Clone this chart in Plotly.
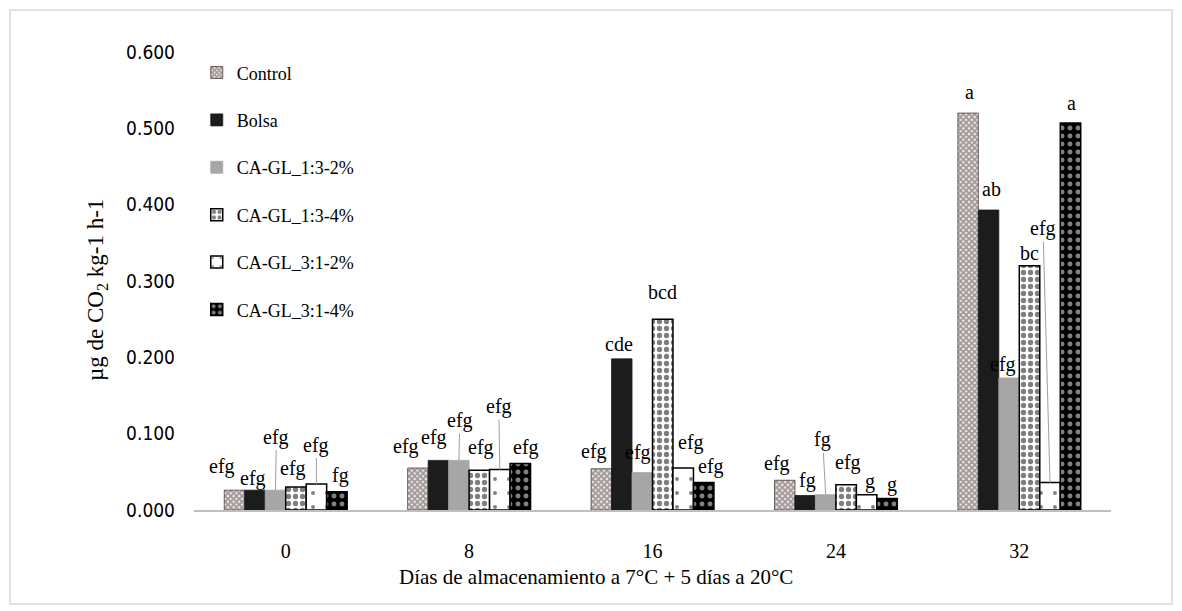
import plotly.graph_objects as go

# ---------------- data ----------------
days = ["0", "8", "16", "24", "32"]
series_names = ["Control", "Bolsa", "CA-GL_1:3-2%", "CA-GL_1:3-4%", "CA-GL_3:1-2%", "CA-GL_3:1-4%"]

control = [0.026, 0.055, 0.054, 0.039, 0.520]
bolsa = [0.026, 0.065, 0.198, 0.019, 0.393]
cagl_13_2 = [0.026, 0.065, 0.049, 0.020, 0.173]
cagl_13_4 = [0.030, 0.052, 0.250, 0.033, 0.320]
cagl_31_2 = [0.034, 0.053, 0.055, 0.020, 0.036]
cagl_31_4 = [0.024, 0.061, 0.036, 0.015, 0.507]

lab_control = ["efg", "efg", "efg", "efg", "a"]
lab_bolsa = ["efg", "efg", "cde", "fg", "ab"]
lab_13_2 = ["efg", "efg", "efg", "fg", "efg"]
lab_13_4 = ["efg", "efg", "bcd", "efg", "bc"]
lab_31_2 = ["efg", "efg", "efg", "g", "efg"]
lab_31_4 = ["fg", "efg", "efg", "g", "a"]

y_ticks = [0.0, 0.1, 0.2, 0.3, 0.4, 0.5, 0.6]
x_title = "Días de almacenamiento a 7°C + 5 días a 20°C"
y_title = "µg de CO<sub>2</sub> kg-1 h-1"

values = [control, bolsa, cagl_13_2, cagl_13_4, cagl_31_2, cagl_31_4]
labels = [lab_control, lab_bolsa, lab_13_2, lab_13_4, lab_31_2, lab_31_4]

# ---------------- styles ----------------
SERIF = "Liberation Serif, Times New Roman, serif"
styles = [
    dict(color="white", line=dict(color="#4d4040", width=0.8),
         pattern=dict(shape="x", fgcolor="#4d4040", bgcolor="#f2eded", size=4, solidity=0.7)),
    dict(color="#1c1c1c", line=dict(color="#1c1c1c", width=0.8)),
    dict(color="#a6a6a6", line=dict(color="#a6a6a6", width=0.8)),
    dict(color="white", line=dict(color="black", width=1.5),
         pattern=dict(shape=".", fgcolor="black", bgcolor="white", size=7, solidity=0.45)),
    dict(color="white", line=dict(color="black", width=1.5),
         pattern=dict(shape=".", fgcolor="black", bgcolor="white", size=14, solidity=0.06)),
    dict(color="black", line=dict(color="black", width=1.5),
         pattern=dict(shape=".", fgcolor="white", bgcolor="black", size=8, solidity=0.3)),
]

# label placement (pixel offsets from the bar top): (dx, dy, leader)
label_layout = [
    [(-13, 24, False), (-12, 22, False), (-7, 17, False), (-8, 17, False), (1, 21, False)],
    [(-2, 12, False), (-4, 23, False), (-3, 15, False), (2, 15, False), (3, 21, False)],
    [(1, 53, True), (1, 40, True), (-4, 20, False), (-3, 55, True), (-6, 13, False)],
    [(-3, 19, False), (2, 23, False), (0, 27, False), (2, 22, False), (0, 13, False)],
    [(0, 39, True), (-1, 63, True), (8, 26, False), (3, 13, False), (-7, 254, True)],
    [(4, 16, False), (6, 16, False), (7, 16, False), (5, 14, False), (1, 20, False)],
]

fig = go.Figure()
for i, (name, vals) in enumerate(zip(series_names, values)):
    fig.add_trace(go.Bar(
        x=days, y=vals, name=name, legendgroup=name,
        marker=styles[i],
    ))

# annotations
BARGAP = 0.33
n = len(series_names)
bw = (1 - BARGAP) / n
annotations = []
for i in range(n):
    for g in range(len(days)):
        xc = g - (1 - BARGAP) / 2 + bw * (i + 0.5)
        dx, dy, leader = label_layout[i][g]
        if leader:
            annotations.append(dict(
                x=xc, y=values[i][g], xref="x", yref="y", text=labels[i][g],
                showarrow=True, arrowhead=0, arrowwidth=1, arrowcolor="#a0a0a0",
                ax=dx, ay=-dy, standoff=0, startstandoff=0,
                font=dict(family=SERIF, size=20, color="black"),
            ))
        else:
            annotations.append(dict(
                x=xc, y=values[i][g], xref="x", yref="y", text=labels[i][g],
                showarrow=False, xshift=dx, yshift=dy,
                xanchor="center", yanchor="middle",
                font=dict(family=SERIF, size=20, color="black"),
            ))

# axis titles
annotations.append(dict(
    text=x_title, xref="paper", yref="paper", x=(596 - 194) / 917, y=(510 - 577) / 458,
    showarrow=False, xanchor="center", yanchor="middle",
    font=dict(family=SERIF, size=21, color="black"),
))
annotations.append(dict(
    text=y_title, xref="paper", yref="paper", x=(97 - 194) / 917, y=(510 - 290) / 458,
    showarrow=False, xanchor="center", yanchor="middle", textangle=-90,
    font=dict(family=SERIF, size=23, color="black"),
))

fig.update_layout(
    width=1182, height=611,
    margin=dict(l=194, r=71, t=52, b=101),
    paper_bgcolor="white", plot_bgcolor="white",
    barmode="group", bargap=BARGAP, bargroupgap=0,
    showlegend=True,
    legend=dict(
        x=0.003, y=0.995, xanchor="left", yanchor="top",
        font=dict(family=SERIF, size=18, color="black"),
        tracegroupgap=21, bgcolor="rgba(0,0,0,0)", itemwidth=30,
    ),
    xaxis=dict(
        showgrid=False, showline=True, linecolor="#bfbfbf", linewidth=1.5,
        ticks="", tickfont=dict(family=SERIF, size=20, color="black"),
        ticklabelstandoff=22,
    ),
    yaxis=dict(
        range=[0, 0.6], tickvals=y_ticks, tickformat=".3f",
        showgrid=False, zeroline=False, showline=False, ticks="",
        tickfont=dict(family="DejaVu Sans Condensed, sans-serif", size=19, color="black"),
        ticklabelstandoff=18,
    ),
    annotations=annotations,
    shapes=[dict(
        type="rect", xref="paper", yref="paper",
        x0=(10 - 194) / 917, x1=(1172 - 194) / 917,
        y0=(510 - 604) / 458, y1=(510 - 10) / 458,
        line=dict(color="#d9d9d9", width=1.5), fillcolor="rgba(0,0,0,0)",
    )],
)

fig.write_html("out.html")
